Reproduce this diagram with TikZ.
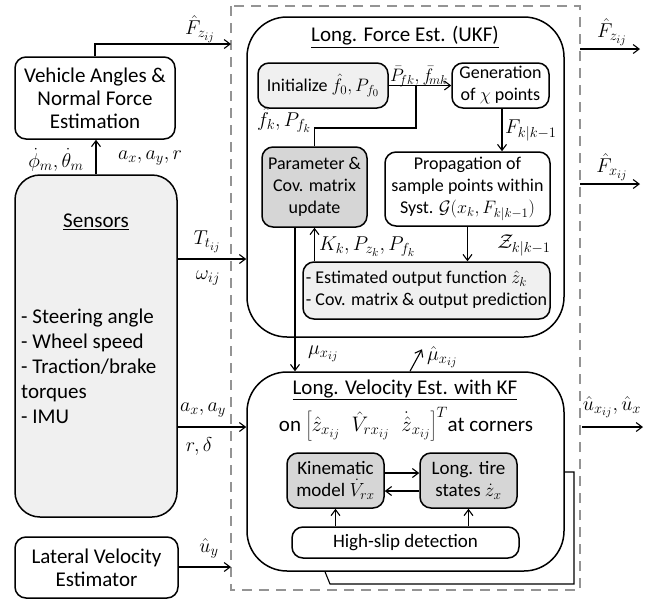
\RequirePackage{fix-cm}
\documentclass[tikz,border=0pt]{standalone}
\usepackage{fontspec}
\setmainfont{Carlito}
\usetikzlibrary{arrows.meta}
\DeclareMathSizes{18}{18}{13}{10.5}
\DeclareMathSizes{19}{19}{13.5}{11}
\DeclareMathSizes{20}{20}{14.5}{11.5}
\DeclareMathSizes{21}{21}{15}{12}

\tikzset{
  blk/.style={draw, line width=1.5pt, rounded corners=11pt, align=center,
              inner sep=0pt, font=\fontsize{18}{22}\selectfont},
  big/.style={blk, rounded corners=40pt},
  lgt/.style={fill=black!6},
  drk/.style={fill=black!16},
  f21/.style={font=\fontsize{21}{23}\selectfont},
  f19/.style={font=\fontsize{19}{22}\selectfont},
  arr/.style={line width=1.1pt, -{Straight Barb[length=6pt,width=9pt,line width=1.1pt]}},
  ln/.style={line width=1.1pt},
  lbl/.style={font=\fontsize{20}{22}\selectfont, inner sep=1pt},
  ttl/.style={font=\fontsize{21}{23}\selectfont, inner sep=0pt},
  frame/.style={draw=black!42, line width=2.4pt, dash pattern=on 10pt off 7pt},
}

\begin{document}
\begin{tikzpicture}[x=1pt, y=-1pt]
\useasboundingbox (0,0) rectangle (665,603);

% dashed frame around the estimator
\draw[frame] (231,6) rectangle (580,590);

% left-hand blocks
\node[blk, f21, minimum width=160pt, minimum height=82pt] (veh) at (95,98)
  {Vehicle Angles \&\\Normal Force\\Estimation};
\node[blk, lgt, rounded corners=25pt, minimum width=162pt, minimum height=342pt] (sens) at (96,346) {};
\node[ttl] (sensT) at (96,222) {\underline{Sensors}};
\node[ttl, align=left, anchor=north west, font=\fontsize{21}{25}\selectfont] (sensL) at (21,309)
  {- Steering angle\\- Wheel speed\\- Traction/brake\\torques\\- IMU};
\node[blk, f21, minimum width=163pt, minimum height=61pt] (lat) at (96.5,567.5)
  {Lateral Velocity\\Estimator};

% longitudinal force estimator (UKF)
\node[big, minimum width=317pt, minimum height=320pt] (ukf) at (405.5,177) {};
\node[ttl] (ukfT) at (405,37) {\underline{Long. Force Est. (UKF)}};
\node[blk, lgt, minimum width=130pt, minimum height=45pt] (init) at (323,85.5)
  {Initialize $\hat{f}_0, P_{f_0}$};
\node[blk, minimum width=97pt, minimum height=45pt] (gen) at (500.5,85.5)
  {Generation\\of $\chi$ points};
\node[blk, drk, minimum width=105pt, minimum height=80pt] (par) at (314.5,187)
  {Parameter \&\\Cov. matrix\\update};
\node[blk, minimum width=165pt, minimum height=74pt] (prop) at (467.5,189)
  {Propagation of\\sample points within\\Syst. $\mathcal{G}(x_k, F_{k|k-1})$};
\node[blk, lgt, minimum width=247pt, minimum height=57pt] (est) at (426.5,290.5)
  {\begin{tabular}{@{}l@{}}- Estimated output function $\hat{z}_k$\\- Cov. matrix \& output prediction\end{tabular}};

% longitudinal velocity estimator (KF)
\node[big, minimum width=317pt, minimum height=199pt] (vel) at (405.5,471.5) {};
\node[ttl] (velT) at (405,390) {\underline{Long. Velocity Est. with KF}};
\node[ttl] (velS) at (406,424)
  {on $\left[\hat{z}_{x_{ij}}\;\;\hat{V}_{rx_{ij}}\;\;\dot{\hat{z}}_{x_{ij}}\right]^T$at corners};
\node[blk, drk, f19, minimum width=97pt, minimum height=55pt] (kin) at (335.5,480.5)
  {Kinematic\\model $\dot{V}_{rx}$};
\node[blk, drk, f19, minimum width=97pt, minimum height=55pt] (tire) at (468.5,480.5)
  {Long. tire\\states $\dot{z}_x$};
\node[blk, f19, minimum width=227pt, minimum height=31pt] (hs) at (405.5,542.5)
  {High-slip detection};

% points on the dashed frame and bends
\coordinate (fzIn) at (231,44);
\coordinate (uyIn) at (231,567);
\coordinate (fzOut) at (580,49);
\coordinate (fxOut) at (580,184);
\coordinate (uxOut) at (582,427);
\coordinate (fzEnd) at (640,49);
\coordinate (fxEnd) at (640,184);
\coordinate (uxEnd) at (643,427);
\coordinate (jn) at (416,128);
\coordinate (fbA) at (574,472);
\coordinate (fbB) at (574,584);
\coordinate (fbC) at (330,584);

% left connectors
\draw[arr] (veh.north) |- (fzIn);
\node[lbl] (lFz) at (200,29) {$\hat{F}_{z_{ij}}$};
\draw[arr] (sens.north) -- (sens.north |- veh.south);
\node[lbl] (lPhi) at (56,160) {$\dot{\phi}_m, \dot{\theta}_m$};
\node[lbl] (lAxr) at (150,158) {$a_x, a_y, r$};
\draw[arr] (sens.east |- 0,259) -- (ukf.west |- 0,259);
\node[lbl] (lT) at (207,242) {$T_{t_{ij}}$};
\node[lbl] (lW) at (208,278) {$\omega_{ij}$};
\draw[arr] (sens.east |- 0,427) -- (vel.west |- 0,427);
\node[lbl] (lAx) at (203,410) {$a_x, a_y$};
\node[lbl] (lRd) at (199,446) {$r, \delta$};
\draw[arr] (lat.east |- uyIn) -- (uyIn);
\node[lbl] (lUy) at (209,548) {$\hat{u}_y$};

% UKF connectors
\draw[arr] (init.east) -- (gen.west);
\node[lbl, anchor=south, inner sep=0pt, font=\fontsize{18}{20}\selectfont] (lPf) at (419,87)
  {$\bar{P}_{\!fk}, \bar{f}_{\!mk}$};
\draw[ln] (par.north) |- (jn) -- (jn |- init.east);
\node[lbl] (lFk) at (284,120) {$\hat{f}_k, P_{f_k}$};
\draw[arr] ([xshift=1.5pt]gen.south) -- ([xshift=1.5pt]gen.south |- prop.north);
\node[lbl, anchor=west] (lF) at (504,130) {$F_{k|k-1}$};
\draw[arr] (prop.south) -- (prop.south |- est.north);
\node[lbl] (lZ) at (524,245) {$\mathcal{Z}_{k|k-1}$};
\draw[arr] (est.north -| par.south) -- (par.south);
\node[lbl, anchor=west] (lK) at (318,247) {$K_k, P_{z_k}, P_{f_k}$};

% links between the two estimators
\draw[arr] ([xshift=-19.5pt]par.south) -- ([xshift=-19.5pt]par.south |- vel.north);
\node[lbl, anchor=west] (lMu) at (307,354) {$\mu_{x_{ij}}$};
\draw[arr] ([xshift=4.5pt]vel.north) -- ++(12,-22);
\node[lbl, anchor=west] (lMuh) at (426,357) {$\hat{\mu}_{x_{ij}}$};

% KF connectors
\draw[arr] (kin.east |- 0,473) -- (tire.west |- 0,473);
\draw[arr] (tire.west |- 0,491) -- (kin.east |- 0,491);
\draw[arr] (hs.north -| kin.south) -- (kin.south);
\draw[arr] (hs.north -| tire.south) -- (tire.south);
\draw[ln] (vel.east |- fbA) -- (fbA) -- (fbB) -- (fbC) -- (vel.south -| 325,0);

% outputs
\draw[arr] (fzOut) -- (fzEnd);
\node[lbl] (oFz) at (612,32) {$\hat{F}_{z_{ij}}$};
\draw[arr] (fxOut) -- (fxEnd);
\node[lbl] (oFx) at (612,167) {$\hat{F}_{x_{ij}}$};
\draw[arr] (uxOut) -- (uxEnd);
\node[lbl] (oUx) at (612,407) {$\hat{u}_{x_{ij}}, \hat{u}_x$};
\end{tikzpicture}
\end{document}
